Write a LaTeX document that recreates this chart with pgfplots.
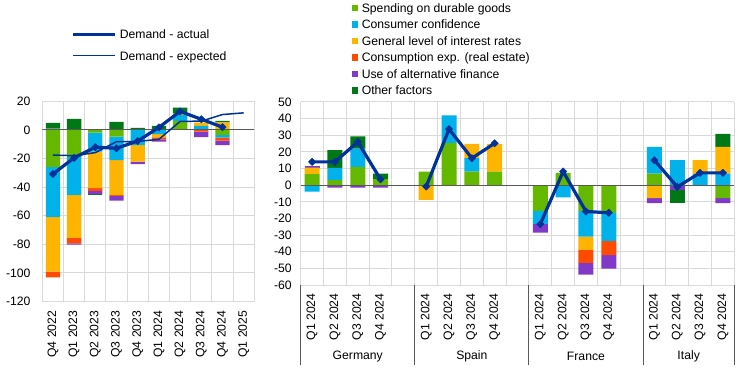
\documentclass[border=0pt]{standalone}
\usepackage{pgfplots}
\pgfplotsset{compat=1.18}
\usepackage{pgfplotstable}
\usepackage{fontspec}
\setmainfont{Liberation Sans}
\definecolor{cgreen}{HTML}{65B800}
\definecolor{ccyan}{HTML}{00B1EA}
\definecolor{cyellow}{HTML}{FFB400}
\definecolor{cred}{HTML}{FF4B00}
\definecolor{cpurple}{HTML}{8139C7}
\definecolor{cdkgreen}{HTML}{007816}
\definecolor{cblue}{HTML}{003299}
\definecolor{gridc}{HTML}{D9D9D9}
\definecolor{zeroc}{HTML}{595959}
\newcommand\cf{\fontsize{12.2bp}{14bp}\selectfont}

% Left chart: positive contributions
\pgfplotstableread{
x green cyan yellow red purple other
0 0 0 0 0 1.0 4.0
1 0 0 0 0 0 7.7
2 0 0 0 0 0 0
3 0 0 0 0 0 5.6
4 0 0 0 0 0 1.4
5 0.8 0 0 0 0 2.0
6 6.3 4.2 1.0 0 0 4.1
7 0 2.8 2.3 0 0 0
8 0 0 5.4 0 0 0.9
9 0 0 0 0 0 0
}\leftpos
% Left chart: negative contributions
\pgfplotstableread{
x green cyan yellow red purple other
0 -26.0 -35.0 -38.0 -4.0 0 0
1 -19.0 -26.5 -30.0 -3.8 -0.9 0
2 -1.9 -13.3 -25.4 -1.9 -2.3 -0.7
3 -4.7 -16.3 -24.5 -0.5 -3.4 0
4 0 -10.5 -11.6 0 -1.7 0
5 0 -2.8 -2.3 -1.4 -1.7 0
6 0 0 0 0 0 0
7 0 0 0 -1.2 -3.7 0
8 -3.5 -1.9 0 -2.1 -3.0 0
9 0 0 0 0 0 0
}\leftneg
% Left chart: lines
\pgfplotstableread{
x actual expected
0 -30.8 -17.5
1 -19.5 -18.0
2 -12.0 -15.8
3 -12.8 -8.2
4 -7.7 -8.0
5 1.8 -6.5
6 13.0 6.0
7 7.5 6.2
8 2.0 10.8
9 nan 12.0
}\leftline
% Right chart: positive contributions
\pgfplotstableread{
x green cyan yellow red purple other
0 6.7 0 3.8 0 1.0 0
1 3.0 7.4 0 0 0 10.6
2 11.0 11.0 0 0 0 7.4
3 3.6 0 0 0 0 3.4
4 0 0 0 0 0 0
5 8.2 0 0 0 0 0
6 25.3 16.6 0 0 0 0
7 8.2 8.0 8.6 0 0 0
8 8.2 0 16.6 0 0 0
9 0 0 0 0 0 0
10 0 0 0 0 0 0
11 7.4 0 0 0 0 0
12 0 0 0 0 0 0
13 0 0 0 0 0 0
14 0 0 0 0 0 0
15 7.0 16.0 0 0 0 0
16 0 15.0 0 0 0 0
17 0 7.0 8.0 0 0 0
18 0 7.0 16.0 0 0 7.9
}\rightpos
% Right chart: negative contributions
\pgfplotstableread{
x green cyan yellow red purple other
0 0 -3.9 0 0 0 0
1 0 0 0 0 -1.5 0
2 0 0 0 0 -1.5 0
3 0 0 0 0 -1.5 0
4 0 0 0 0 0 0
5 0 0 -8.8 0 0 0
6 0 0 0 0 0 0
7 0 0 0 0 0 0
8 0 0 0 0 0 0
9 0 0 0 0 0 0
10 -15.4 -7.8 0 0 -5.3 0
11 0 -7.4 0 0 0 0
12 -15.4 -15.5 -8.0 -7.8 -7.0 0
13 -16.6 -17.0 0 -8.4 -8.2 0
14 0 0 0 0 0 0
15 0 0 -7.8 0 -3.0 0
16 0 0 0 0 -3.0 -7.6
17 0 0 0 0 0 0
18 -7.8 0 0 0 -3.0 0
}\rightneg
% Right chart: demand actual
\pgfplotstableread{
x actual
0 14.0
1 14.0
2 26.0
3 3.5
4 nan
5 -0.8
6 33.7
7 16.2
8 25.2
9 nan
10 -23.4
11 8.2
12 -15.8
13 -16.6
14 nan
15 15.0
16 -1.0
17 7.4
18 7.4
}\rightline

\pgfplotsset{
  LA/.style={at={(42.3bp,75.4bp)}, anchor=south west, scale only axis,
    width=212bp, height=200.2bp, xmin=-0.5, xmax=9.5, ymin=-120, ymax=20,
    enlargelimits=false},
  RA/.style={at={(300.7bp,92bp)}, anchor=south west, scale only axis,
    width=433.6bp, height=183bp, xmin=-0.5, xmax=18.5, ymin=-60, ymax=50,
    enlargelimits=false},
  vis/.style={font=\cf, tick label style={font=\cf},
    /pgf/number format/assume math mode=true,
    axis line style={draw=none}, major tick length=0pt, minor tick length=0pt,
    xtick pos=left, ytick pos=left,
    xminorgrids=true, ymajorgrids=true, xmajorgrids=false,
    major grid style={gridc, line width=1bp},
    minor grid style={gridc, line width=1bp},
    xticklabel style={rotate=90, anchor=east, inner sep=0pt},
    yticklabel style={anchor=east, inner sep=0pt}},
  sqlegend/.style={legend image code/.code={\fill[##1] (0bp,-3.25bp) rectangle (6.5bp,3.25bp);}},
  actual/.style={cblue, line width=3.2bp, line join=round, mark=square*, mark size=2.6bp,
    mark options={rotate=45, solid, line width=0.5bp, fill=cblue, draw=cblue},
    unbounded coords=jump},
}

\begin{document}
\begin{tikzpicture}
\path[use as bounding box] (0,0) rectangle (744bp,377bp);

%================ LEFT CHART =================
\begin{axis}[LA, vis, ybar stacked, bar width=14.3bp,
  xtick={0,...,9},
  xticklabels={Q4 2022,Q1 2023,Q2 2023,Q3 2023,Q4 2023,Q1 2024,Q2 2024,Q3 2024,Q4 2024,Q1 2025},
  minor xtick={-0.5,0.5,...,9.5},
  ytick={-120,-100,...,20},
  xticklabel shift=9bp, yticklabel shift=11.6bp]
\addplot[fill=cgreen, draw=none] table[x=x,y=green]{\leftpos};
\addplot[fill=ccyan, draw=none] table[x=x,y=cyan]{\leftpos};
\addplot[fill=cyellow, draw=none] table[x=x,y=yellow]{\leftpos};
\addplot[fill=cred, draw=none] table[x=x,y=red]{\leftpos};
\addplot[fill=cpurple, draw=none] table[x=x,y=purple]{\leftpos};
\addplot[fill=cdkgreen, draw=none] table[x=x,y=other]{\leftpos};
\end{axis}

\begin{axis}[LA, hide axis, ybar stacked, bar width=14.3bp]
\addplot[fill=cgreen, draw=none] table[x=x,y=green]{\leftneg};
\addplot[fill=ccyan, draw=none] table[x=x,y=cyan]{\leftneg};
\addplot[fill=cyellow, draw=none] table[x=x,y=yellow]{\leftneg};
\addplot[fill=cred, draw=none] table[x=x,y=red]{\leftneg};
\addplot[fill=cpurple, draw=none] table[x=x,y=purple]{\leftneg};
\addplot[fill=cdkgreen, draw=none] table[x=x,y=other]{\leftneg};
\end{axis}

\begin{axis}[LA, hide axis, reverse legend=true, legend cell align=left,
  legend image code/.code={\draw[#1] (0bp,0bp) -- (41.6bp,0bp);},
  legend style={at={(axis description cs:0.1387,1.3581)}, anchor=north west,
    draw=none, fill=none, inner sep=0pt, outer sep=0pt, font=\cf,
    row sep=12.1bp, nodes={inner sep=0pt, text height=9bp, text depth=0.2bp},
    /tikz/every odd column/.append style={column sep=3.4bp}}]
\addplot[zeroc, line width=1bp, forget plot] coordinates {(-0.5,0) (9.5,0)};
\addplot[cblue, line width=1.5bp, line join=round] table[x=x,y=expected]{\leftline};
\addlegendentry{Demand - expected}
\addplot[actual] table[x=x,y=actual]{\leftline};
\addlegendentry{Demand - actual}
\end{axis}

%================ RIGHT CHART =================
\begin{axis}[RA, vis, ybar stacked, bar width=15bp, clip=false,
  xtick={0,1,2,3,5,6,7,8,10,11,12,13,15,16,17,18},
  xticklabels={Q1 2024,Q2 2024,Q3 2024,Q4 2024,Q1 2024,Q2 2024,Q3 2024,Q4 2024,Q1 2024,Q2 2024,Q3 2024,Q4 2024,Q1 2024,Q2 2024,Q3 2024,Q4 2024},
  minor xtick={-0.5,0.5,...,18.5},
  ytick={-60,-50,...,50},
  xticklabel shift=8.3bp, yticklabel shift=8.8bp,
  extra x ticks={-0.5,4.5,9.5,14.5,18.5}, extra x tick labels={},
  extra x tick style={major tick length=80bp, tick align=outside, xtick pos=left,
    xmajorgrids=false, xminorgrids=false,
    major tick style={draw=zeroc, line width=1bp}},
  legend cell align=left,
  legend style={at={(axis description cs:0.1183,1.5388)}, anchor=north west,
    draw=none, fill=none, inner sep=0pt, outer sep=0pt, font=\cf,
    row sep=7.3bp, nodes={inner sep=0pt, text height=9bp, text depth=0.2bp},
    /tikz/every odd column/.append style={column sep=3.3bp}}]
\addplot[fill=cgreen, draw=none, sqlegend] table[x=x,y=green]{\rightpos};
\addlegendentry{Spending on durable goods}
\addplot[fill=ccyan, draw=none, sqlegend] table[x=x,y=cyan]{\rightpos};
\addlegendentry{Consumer confidence}
\addplot[fill=cyellow, draw=none, sqlegend] table[x=x,y=yellow]{\rightpos};
\addlegendentry{General level of interest rates}
\addplot[fill=cred, draw=none, sqlegend] table[x=x,y=red]{\rightpos};
\addlegendentry{Consumption exp. (real estate)}
\addplot[fill=cpurple, draw=none, sqlegend] table[x=x,y=purple]{\rightpos};
\addlegendentry{Use of alternative finance}
\addplot[fill=cdkgreen, draw=none, sqlegend] table[x=x,y=other]{\rightpos};
\addlegendentry{Other factors}
\node[font=\cf] at (axis cs:2,-60) [yshift=-71.7bp] {Germany};
\node[font=\cf] at (axis cs:7,-60) [yshift=-71.7bp] {Spain};
\node[font=\cf] at (axis cs:12,-60) [yshift=-71.7bp] {France};
\node[font=\cf] at (axis cs:16.5,-60) [yshift=-71.7bp] {Italy};
\end{axis}

\begin{axis}[RA, hide axis, ybar stacked, bar width=15bp]
\addplot[fill=cgreen, draw=none] table[x=x,y=green]{\rightneg};
\addplot[fill=ccyan, draw=none] table[x=x,y=cyan]{\rightneg};
\addplot[fill=cyellow, draw=none] table[x=x,y=yellow]{\rightneg};
\addplot[fill=cred, draw=none] table[x=x,y=red]{\rightneg};
\addplot[fill=cpurple, draw=none] table[x=x,y=purple]{\rightneg};
\addplot[fill=cdkgreen, draw=none] table[x=x,y=other]{\rightneg};
\end{axis}

\begin{axis}[RA, hide axis]
\addplot[zeroc, line width=1bp] coordinates {(-0.5,0) (18.5,0)};
\addplot[actual] table[x=x,y=actual]{\rightline};
\end{axis}
\end{tikzpicture}
\end{document}
